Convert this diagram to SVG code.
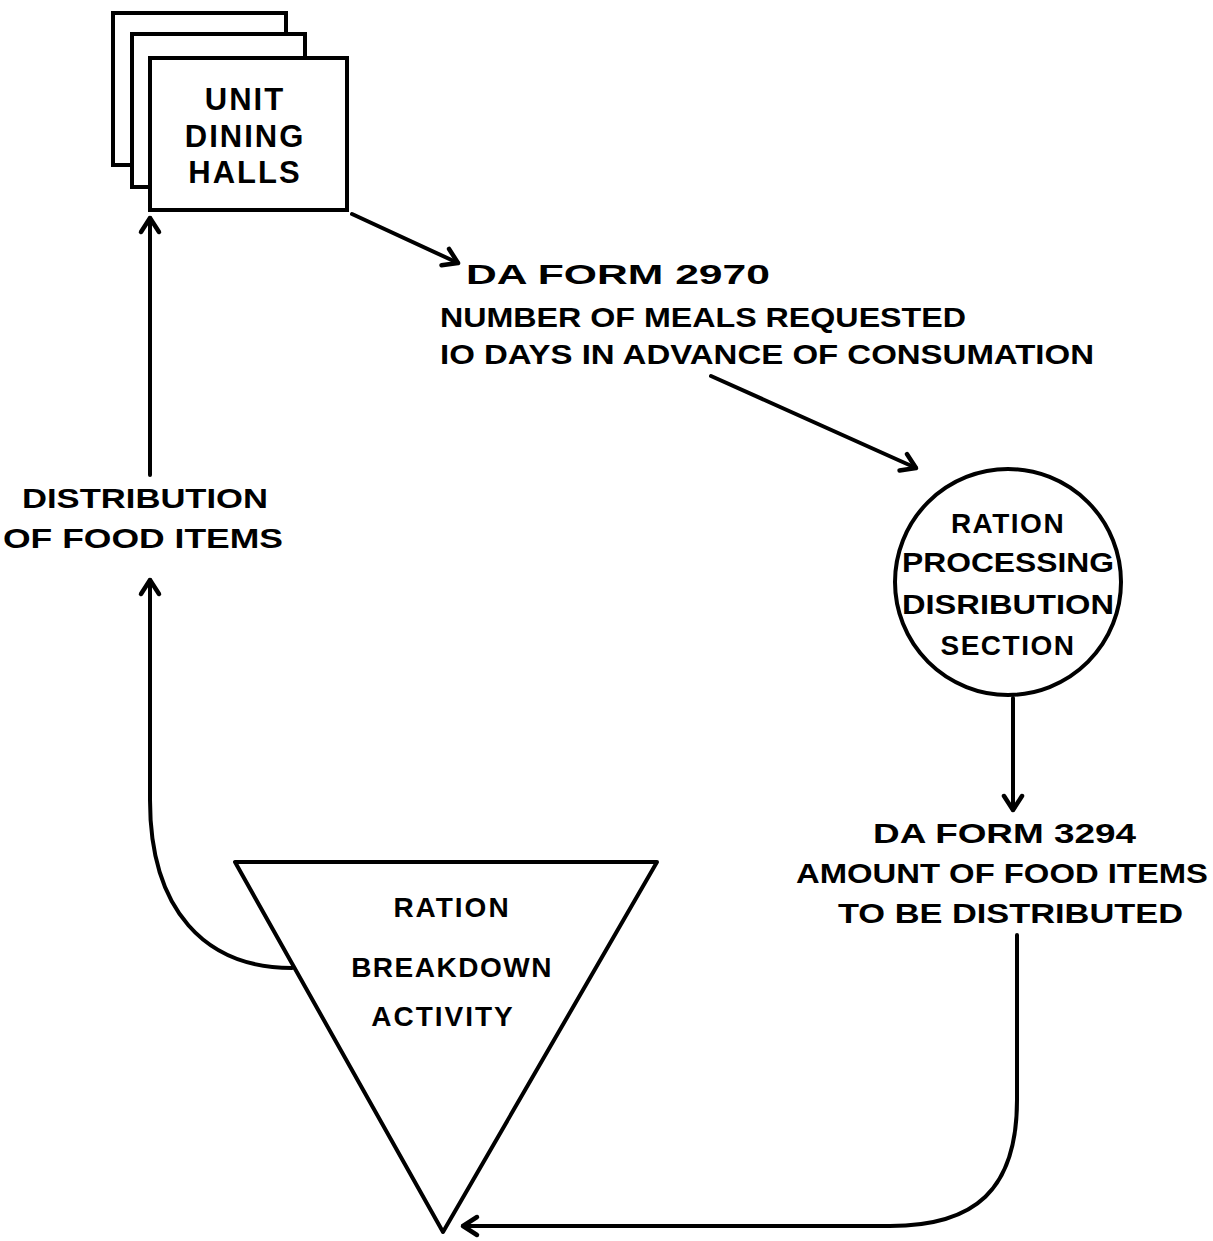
<svg xmlns="http://www.w3.org/2000/svg" width="1213" height="1241" viewBox="0 0 1213 1241">
<style>
.s{fill:none;stroke:#000;stroke-width:4;stroke-linejoin:round;stroke-linecap:round}
.b{fill:#fff;stroke:#000;stroke-width:4}
text{font-family:"Liberation Sans",Arial,sans-serif;font-weight:bold;font-size:28px;fill:#000}
.m{text-anchor:middle}
.big{font-size:31px}
</style>
<defs>
<marker id="ah" viewBox="-20 -15 25 30" refX="0" refY="0" markerWidth="25" markerHeight="30" markerUnits="userSpaceOnUse" orient="auto">
<path d="M-14,-9 L0,0 L-14,9" fill="none" stroke="#000" stroke-width="4.5" stroke-linecap="round" stroke-linejoin="round"/>
</marker>
</defs>
<rect width="1213" height="1241" fill="#fff"/>
<g id="dining-halls">
<rect class="b" x="113" y="13" width="173" height="152"/>
<rect class="b" x="132" y="34" width="173" height="153"/>
<rect class="b" x="150" y="58" width="197" height="152"/>
<text class="m big" x="245" y="110" letter-spacing="2">UNIT</text>
<text class="m big" x="245" y="147" letter-spacing="2">DINING</text>
<text class="m big" x="245" y="183" letter-spacing="2">HALLS</text>
</g>
<g id="ration-processing">
<circle class="b" cx="1008" cy="582" r="113"/>
<text class="m" x="1008" y="533" letter-spacing="1.5">RATION</text>
<text class="m" x="1008" y="572" textLength="212" lengthAdjust="spacingAndGlyphs">PROCESSING</text>
<text class="m" x="1008" y="614" textLength="212" lengthAdjust="spacingAndGlyphs">DISRIBUTION</text>
<text class="m" x="1008" y="655" letter-spacing="1.5">SECTION</text>
</g>
<g id="ration-breakdown">
<polygon class="b" points="235,862 657,862 443,1232" stroke-linejoin="round"/>
<text class="m" x="452" y="917" letter-spacing="2">RATION</text>
<text class="m" x="452" y="977" letter-spacing="1.5">BREAKDOWN</text>
<text class="m" x="443" y="1026" letter-spacing="2">ACTIVITY</text>
</g>
<g id="labels">
<text x="466" y="284" textLength="304" lengthAdjust="spacingAndGlyphs">DA FORM 2970</text>
<text x="440" y="327" textLength="526" lengthAdjust="spacingAndGlyphs">NUMBER OF MEALS REQUESTED</text>
<text x="440" y="364" textLength="654" lengthAdjust="spacingAndGlyphs">IO DAYS IN ADVANCE OF CONSUMATION</text>
<text x="873" y="843" textLength="263" lengthAdjust="spacingAndGlyphs">DA FORM 3294</text>
<text x="796" y="883" textLength="412" lengthAdjust="spacingAndGlyphs">AMOUNT OF FOOD ITEMS</text>
<text x="838" y="923" textLength="345" lengthAdjust="spacingAndGlyphs">TO BE DISTRIBUTED</text>
<text x="22" y="508" textLength="246" lengthAdjust="spacingAndGlyphs">DISTRIBUTION</text>
<text x="3" y="548" textLength="280" lengthAdjust="spacingAndGlyphs">OF FOOD ITEMS</text>
</g>
<g id="connectors">
<path class="s" d="M352,214 L458,263" marker-end="url(#ah)"/>
<path class="s" d="M711,376 L916,468" marker-end="url(#ah)"/>
<path class="s" d="M1013,698 L1013,810" marker-end="url(#ah)"/>
<path class="s" d="M1017,935 L1017,1100 C1017,1190 975,1226 890,1226 L463,1226" marker-end="url(#ah)"/>
<path class="s" d="M292,968 C205,968 150,910 150,800 L150,580" marker-end="url(#ah)"/>
<path class="s" d="M150,475 L150,218" marker-end="url(#ah)"/>
</g>
</svg>
